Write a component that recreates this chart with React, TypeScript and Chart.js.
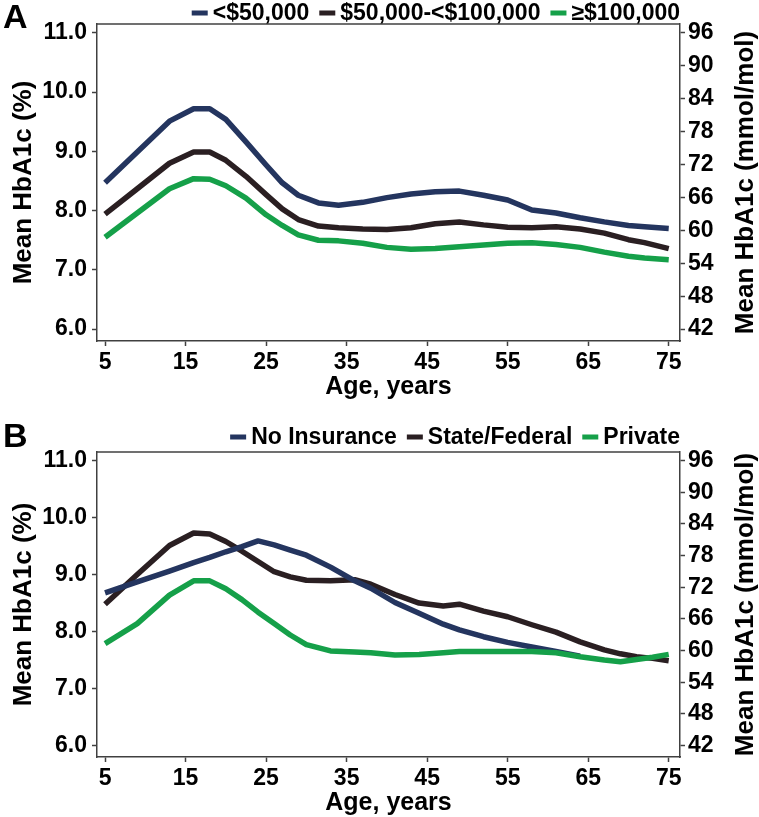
import React, { useEffect, useRef } from 'react';
import { Chart, registerables } from 'chart.js';

Chart.register(...registerables);

// ---------- data ----------
const agesA = [5, 9, 13, 16, 18, 20, 22.5, 25, 27, 29, 31.5, 34, 37, 40, 43, 46, 49, 52, 55, 58, 61, 64, 67, 70, 72, 75];
const incomeLow = [8.47, 8.99, 9.51, 9.72, 9.72, 9.54, 9.16, 8.77, 8.47, 8.26, 8.13, 8.09, 8.14, 8.22, 8.28, 8.32, 8.33, 8.26, 8.18, 8.01, 7.96, 7.88, 7.81, 7.75, 7.73, 7.70];
const incomeMid = [7.94, 8.37, 8.80, 8.99, 8.99, 8.85, 8.58, 8.27, 8.03, 7.85, 7.74, 7.71, 7.69, 7.68, 7.71, 7.78, 7.81, 7.76, 7.72, 7.71, 7.73, 7.69, 7.62, 7.51, 7.46, 7.36];
const incomeHigh = [7.55, 7.96, 8.37, 8.54, 8.53, 8.42, 8.21, 7.93, 7.75, 7.59, 7.50, 7.49, 7.45, 7.38, 7.35, 7.36, 7.39, 7.42, 7.45, 7.46, 7.43, 7.38, 7.30, 7.23, 7.20, 7.17];

const agesB = [5, 9, 13, 16, 18, 20, 22, 24, 26, 28, 30, 33, 36, 38, 41, 44, 47, 49, 52, 55, 58, 61, 64, 67, 69, 71, 73, 75];
const noInsurance = [8.68, 8.87, 9.06, 9.21, 9.30, 9.40, 9.49, 9.59, 9.52, 9.43, 9.34, 9.13, 8.89, 8.76, 8.51, 8.32, 8.13, 8.03, 7.91, 7.81, 7.73, 7.65, 7.57, null, null, null, null, null];
const stateFederal = [8.48, 9.00, 9.51, 9.73, 9.71, 9.58, 9.41, 9.23, 9.05, 8.96, 8.90, 8.89, 8.91, 8.83, 8.65, 8.50, 8.45, 8.48, 8.36, 8.26, 8.12, 7.99, 7.82, 7.68, 7.61, 7.56, 7.53, 7.49];
const privateIns = [7.79, 8.14, 8.64, 8.89, 8.89, 8.75, 8.56, 8.34, 8.14, 7.94, 7.77, 7.66, 7.64, 7.63, 7.59, 7.60, 7.63, 7.65, 7.65, 7.65, 7.65, 7.63, 7.56, 7.50, 7.47, 7.51, 7.55, 7.60];

const labelsA = ['<$50,000', '$50,000-<$100,000', '\u2265$100,000'];
const labelsB = ['No Insurance', 'State/Federal', 'Private'];

const xTicks = [5, 15, 25, 35, 45, 55, 65, 75];
const pctTicks = [6, 7, 8, 9, 10, 11];
const mmolTicks = [42, 48, 54, 60, 66, 72, 78, 84, 90, 96];

const xTitle = 'Age, years';
const yTitleLeft = 'Mean HbA1c (%)';
const yTitleRight = 'Mean HbA1c (mmol/mol)';

// ---------- styling ----------
const COLORS = ['#24355f', '#2a1f22', '#15a049'];
const AXIS = '#404040';
const FONT = '"Liberation Sans", Arial, Helvetica, sans-serif';

type PanelOpts = {
  letter: string;
  ages: number[];
  series: (number | null)[][];
  labels: string[];
  orders: number[];
  padTop: number;
  xAxisH: number;
  xTitlePadBottom: number;
  legendY: number;
  letterY: number;
};

function makeConfig(p: PanelOpts): any {
  const datasets = p.series.map((vals, i) => ({
    label: p.labels[i],
    data: p.ages.map((a, j) => ({ x: a, y: vals[j] })),
    borderColor: COLORS[i],
    backgroundColor: COLORS[i],
    borderWidth: 5.5,
    pointRadius: 0,
    pointHoverRadius: 0,
    tension: 0,
    fill: false,
    spanGaps: false,
    order: p.orders[i],
    borderJoinStyle: 'round',
    borderCapStyle: 'butt',
    yAxisID: 'y',
    xAxisID: 'x',
  }));

  const decor = {
    id: 'decor' + p.letter,
    afterDraw(chart: any) {
      const { ctx, chartArea } = chart;
      ctx.save();
      // top frame line
      ctx.strokeStyle = AXIS;
      ctx.lineWidth = 1.5;
      ctx.beginPath();
      ctx.moveTo(chartArea.left, chartArea.top);
      ctx.lineTo(chartArea.right, chartArea.top);
      ctx.stroke();

      // legend, right-aligned to the plot area
      ctx.font = `bold 23px ${FONT}`;
      ctx.textBaseline = 'middle';
      ctx.textAlign = 'left';
      const BOXW = 16, BOXH = 5, GAP = 5, SEP = 10;
      const items = chart.data.datasets.map((d: any) => ({ text: d.label, color: d.borderColor }));
      let total = 0;
      items.forEach((it: any, i: number) => {
        total += BOXW + GAP + ctx.measureText(it.text).width + (i ? SEP : 0);
      });
      let x = chartArea.right - total;
      items.forEach((it: any) => {
        ctx.fillStyle = it.color;
        ctx.fillRect(x, p.legendY - BOXH / 2, BOXW, BOXH);
        x += BOXW + GAP;
        ctx.fillStyle = '#000';
        ctx.fillText(it.text, x, p.legendY + 1);
        x += ctx.measureText(it.text).width + SEP;
      });

      // panel letter
      ctx.font = `bold 34px ${FONT}`;
      ctx.textBaseline = 'alphabetic';
      ctx.fillStyle = '#000';
      ctx.fillText(p.letter, 3, p.letterY);

      // right axis title (reads bottom to top)
      ctx.font = `bold 26px ${FONT}`;
      ctx.textAlign = 'center';
      ctx.textBaseline = 'middle';
      ctx.translate(746, (chartArea.top + chartArea.bottom) / 2);
      ctx.rotate(-Math.PI / 2);
      ctx.fillText(yTitleRight, 0, 0);
      ctx.restore();
    },
  };

  const tickFont = { family: FONT, size: 23, weight: 'bold', lineHeight: 1 };
  const grid = {
    display: true,
    drawOnChartArea: false,
    drawTicks: true,
    tickLength: 5,
    tickColor: AXIS,
    tickWidth: 1.5,
    color: AXIS,
  };
  const border = { display: true, color: AXIS, width: 1.5 };

  return {
    type: 'line',
    data: { datasets },
    plugins: [decor],
    options: {
      animation: false,
      responsive: false,
      maintainAspectRatio: false,
      devicePixelRatio: 1,
      events: [],
      layout: { padding: { top: p.padTop, left: 0, right: 0, bottom: 0 } },
      plugins: { legend: { display: false }, tooltip: { enabled: false }, title: { display: false } },
      scales: {
        x: {
          type: 'linear',
          position: 'bottom',
          min: 4,
          max: 76.4,
          afterBuildTicks: (s: any) => { s.ticks = xTicks.map((v) => ({ value: v })); },
          afterFit: (s: any) => { s.height = p.xAxisH; },
          grid,
          border,
          ticks: { color: '#000', font: tickFont, padding: 5, maxRotation: 0, autoSkip: false, callback: (v: number) => String(v) },
          title: {
            display: true, text: xTitle, color: '#000',
            font: { family: FONT, size: 25, weight: 'bold', lineHeight: 1 },
            padding: { top: 0, bottom: p.xTitlePadBottom },
          },
        },
        y: {
          type: 'linear',
          position: 'left',
          min: 5.8,
          max: 11.15,
          afterBuildTicks: (s: any) => { s.ticks = pctTicks.map((v) => ({ value: v })); },
          afterFit: (s: any) => { s.width = 97; },
          grid,
          border,
          ticks: { color: '#000', font: tickFont, padding: 5, autoSkip: false, callback: (v: number) => Number(v).toFixed(1) },
          title: {
            display: true, text: yTitleLeft, color: '#000',
            font: { family: FONT, size: 26, weight: 'bold', lineHeight: 1 },
            padding: { top: 11, bottom: 0 },
          },
        },
        y2: {
          type: 'linear',
          position: 'right',
          min: 39.84,
          max: 97.62,
          afterBuildTicks: (s: any) => { s.ticks = mmolTicks.map((v) => ({ value: v })); },
          afterFit: (s: any) => { s.width = 79; },
          grid,
          border,
          ticks: { color: '#000', font: tickFont, padding: 3, autoSkip: false, callback: (v: number) => String(v) },
          title: { display: false },
        },
      },
    },
  };
}

export default function App() {
  const refA = useRef<HTMLCanvasElement>(null);
  const refB = useRef<HTMLCanvasElement>(null);

  useEffect(() => {
    const a = new Chart(refA.current as HTMLCanvasElement, makeConfig({
      letter: 'A',
      ages: agesA,
      series: [incomeLow, incomeMid, incomeHigh],
      labels: labelsA,
      orders: [0, 1, 2],
      padTop: 24,
      xAxisH: 67,
      xTitlePadBottom: 8,
      legendY: 13,
      letterY: 28,
    }));
    const b = new Chart(refB.current as HTMLCanvasElement, makeConfig({
      letter: 'B',
      ages: agesB,
      series: [noInsurance, stateFederal, privateIns],
      labels: labelsB,
      orders: [1, 2, 0],
      padTop: 44,
      xAxisH: 60,
      xTitlePadBottom: 1,
      legendY: 29,
      letterY: 39,
    }));
    return () => { a.destroy(); b.destroy(); };
  }, []);

  return (
    <div style={{ position: 'fixed', left: 0, top: 0, width: 759, height: 817, background: '#fff' }}>
      <div style={{ position: 'absolute', left: 0, top: 0, width: 759, height: 408 }}>
        <canvas ref={refA} width={759} height={408} style={{ width: 759, height: 408, display: 'block' }} />
      </div>
      <div style={{ position: 'absolute', left: 0, top: 408, width: 759, height: 409 }}>
        <canvas ref={refB} width={759} height={409} style={{ width: 759, height: 409, display: 'block' }} />
      </div>
    </div>
  );
}
